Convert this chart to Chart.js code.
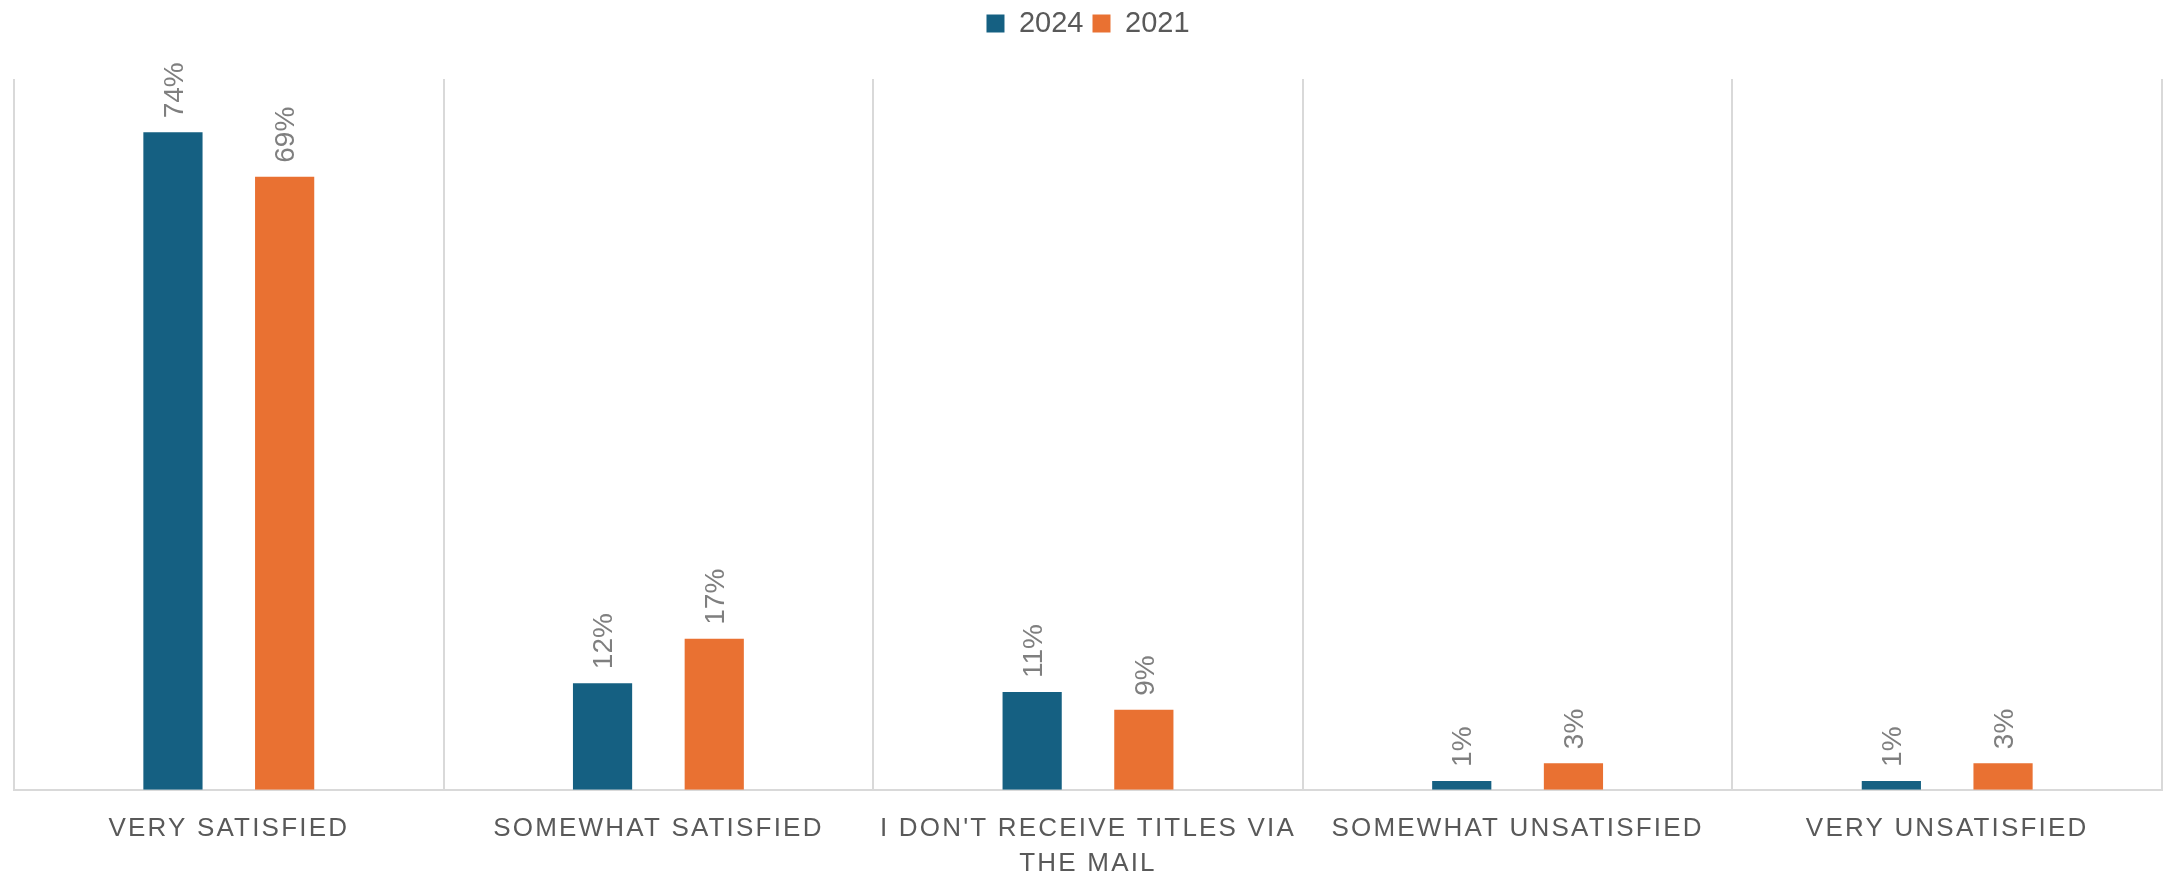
<html>
<head>
<title>Satisfaction with title delivery</title>
<script src="https://cdn.jsdelivr.net/npm/chart.js@4.4.1/dist/chart.umd.min.js"></script>
<style type="text/css">
  body {
    margin: 0;
    background: #ffffff;
  }
  #wrap {
    width: 2165px;
    height: 872px;
  }
</style>
</head>
<body>

<div id="wrap">
  <canvas id="satisfaction" width="2165" height="872"></canvas>
</div>

<script>
// survey answers and shares (percent)
var categories = [
  'VERY SATISFIED',
  'SOMEWHAT SATISFIED',
  ["I DON'T RECEIVE TITLES VIA", 'THE MAIL'],
  'SOMEWHAT UNSATISFIED',
  'VERY UNSATISFIED'
];
var values2024 = [74, 12, 11, 1, 1];
var values2021 = [69, 17, 9, 3, 3];
var seriesNames = ['2024', '2021'];
var yMax = 80;

var fontFamily = "'Liberation Sans', Arial, sans-serif";

// value labels, turned on their side above each bar
var barLabels = {
  id: 'barLabels',
  afterDatasetsDraw: function(chart) {
    var ctx = chart.ctx;
    ctx.save();
    ctx.font = '28px ' + fontFamily;
    ctx.fillStyle = '#7f7f7f';
    ctx.textAlign = 'left';
    ctx.textBaseline = 'middle';
    chart.data.datasets.forEach(function(ds, i) {
      var meta = chart.getDatasetMeta(i);
      meta.data.forEach(function(bar, j) {
        ctx.save();
        ctx.translate(bar.x + 2, bar.y - 14);
        ctx.rotate(-Math.PI / 2);
        ctx.fillText(ds.data[j] + '%', 0, 0);
        ctx.restore();
      });
    });
    ctx.restore();
  }
};

// wide letter spacing on the category labels
var spacedTicks = {
  id: 'spacedTicks',
  afterUpdate: function(chart) {
    var scale = chart.scales.x;
    if (!scale || scale._spaced) return;
    var orig = scale.drawLabels;
    scale.drawLabels = function(area) {
      var ctx = this.ctx;
      ctx.save();
      ctx.letterSpacing = '2.2px';
      orig.call(this, area);
      ctx.restore();
    };
    scale._spaced = true;
  }
};

// push the plot area down under the legend
var legendRoom = {
  id: 'legendRoom',
  beforeInit: function(chart) {
    var fit = chart.legend.fit;
    chart.legend.fit = function() {
      fit.call(this);
      this.height = 79;
    };
  }
};

var ctx = document.getElementById('satisfaction').getContext('2d');
var myChart = new Chart(ctx, {
  type: 'bar',
  data: {
    labels: categories,
    datasets: [{
      label: seriesNames[0],
      data: values2024,
      backgroundColor: '#156082',
      categoryPercentage: 0.52,
      barPercentage: 0.53
    }, {
      label: seriesNames[1],
      data: values2021,
      backgroundColor: '#E97132',
      categoryPercentage: 0.52,
      barPercentage: 0.53
    }]
  },
  options: {
    responsive: false,
    animation: false,
    layout: {
      padding: { left: 14, right: 3, top: 0, bottom: -30 }
    },
    plugins: {
      tooltip: { enabled: false },
      legend: {
        position: 'top',
        labels: {
          boxWidth: 18,
          boxHeight: 18,
          padding: 9,
          color: '#595959',
          font: { family: fontFamily, size: 29 }
        }
      }
    },
    scales: {
      x: {
        grid: {
          color: '#d9d9d9',
          lineWidth: 2,
          drawTicks: false
        },
        border: { color: '#d9d9d9', width: 2 },
        ticks: {
          color: '#595959',
          padding: 21,
          maxRotation: 0,
          autoSkip: false,
          font: { family: fontFamily, size: 26, lineHeight: 1.35 }
        }
      },
      y: {
        display: false,
        min: 0,
        max: yMax
      }
    }
  },
  plugins: [barLabels, spacedTicks, legendRoom]
});
</script>

</body>
</html>
